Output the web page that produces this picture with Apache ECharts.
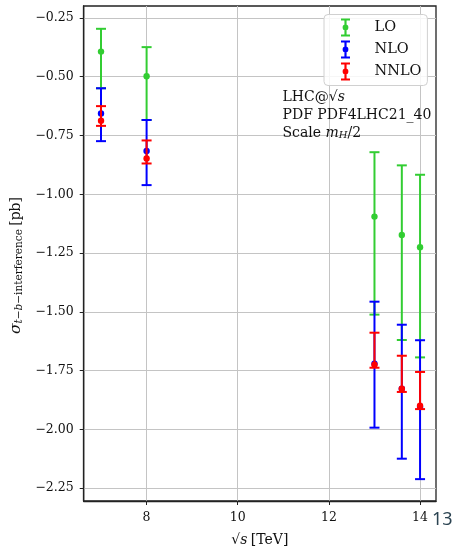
<!DOCTYPE html>
<html>
<head>
<meta charset="utf-8">
<script src="https://cdn.jsdelivr.net/npm/echarts@6/dist/echarts.min.js"></script>
<style>html,body{margin:0;padding:0;background:#fff;}#c{width:454px;height:552px;}</style>
</head>
<body>
<div id="c"></div>
<script>
// collision energies (TeV)
const energies = [7, 8, 13, 13.6, 14];
// LO
const loCentral = [-0.393, -0.498, -1.095, -1.173, -1.225];
const loUpper   = [-0.296, -0.374, -0.821, -0.877, -0.917];
const loLower   = [-0.549, -0.684, -1.512, -1.620, -1.694];
// NLO
const nloCentral = [-0.656, -0.816, -1.721, -1.827, -1.905];
const nloUpper   = [-0.549, -0.684, -1.457, -1.555, -1.621];
const nloLower   = [-0.774, -0.961, -1.993, -2.125, -2.212];
// NNLO
const nnloCentral = [-0.687, -0.848, -1.725, -1.827, -1.900];
const nnloUpper   = [-0.625, -0.771, -1.589, -1.687, -1.756];
const nnloLower   = [-0.709, -0.869, -1.738, -1.841, -1.914];
// ticks
const xTicks = [8, 10, 12, 14];
const yTicks = [-2.25, -2.0, -1.75, -1.5, -1.25, -1.0, -0.75, -0.5, -0.25];

const seriesNames = ['LO', 'NLO', 'NNLO'];
const seriesColors = ['#32cd32', '#0000ff', '#ff0000'];
const seriesData = [
  [loCentral, loUpper, loLower],
  [nloCentral, nloUpper, nloLower],
  [nnloCentral, nnloUpper, nnloLower]
];

const errIcon = 'path://M0,0H10V2.2H0Z M3.8,0H6.2V20H3.8Z M0,17.8H10V20H0Z M8.2,10A3.2,3.2,0,1,1,1.8,10A3.2,3.2,0,1,1,8.2,10Z';

function makeRender(color) {
  return function (params, api) {
    const x = api.value(0);
    const c = api.coord([x, api.value(1)]);
    const t = api.coord([x, api.value(2)]);
    const b = api.coord([x, api.value(3)]);
    const hw = 5;
    const ls = { stroke: color, lineWidth: 2 };
    return {
      type: 'group',
      children: [
        { type: 'line', shape: { x1: t[0], y1: t[1], x2: b[0], y2: b[1] }, style: ls },
        { type: 'line', shape: { x1: t[0] - hw, y1: t[1], x2: t[0] + hw, y2: t[1] }, style: ls },
        { type: 'line', shape: { x1: b[0] - hw, y1: b[1], x2: b[0] + hw, y2: b[1] }, style: ls },
        { type: 'circle', shape: { cx: c[0], cy: c[1], r: 3.2 }, style: { fill: color } }
      ]
    };
  };
}

const series = seriesNames.map((n, k) => ({
  name: n,
  type: 'custom',
  itemStyle: { color: seriesColors[k] },
  renderItem: makeRender(seriesColors[k]),
  encode: { x: 0, y: [1, 2, 3] },
  data: energies.map((e, i) => [e, seriesData[k][0][i], seriesData[k][1][i], seriesData[k][2][i]]),
  z: 2 + k
}));

const fmtNum = v => {
  const s = Math.abs(v).toFixed(2);
  return (v < 0 ? '\u2212' : '') + s;
};

const serif = 'DejaVu Serif';
const chart = echarts.init(document.getElementById('c'), null, { renderer: 'canvas' });
chart.setOption({
  animation: false,
  backgroundColor: '#fff',
  grid: { left: 83, right: 18, top: 6, bottom: 51, show: true, borderColor: '#222', borderWidth: 1.3, backgroundColor: 'transparent' },
  xAxis: {
    type: 'value', min: 6.62, max: 14.35,
    name: '{r|\u221A}{i|s} {r|[TeV]}',
    nameLocation: 'middle', nameGap: 32,
    nameTextStyle: { rich: { r: { fontFamily: serif, fontSize: 14, color: '#111' }, i: { fontFamily: serif, fontStyle: 'italic', fontSize: 14, color: '#111' } } },
    axisLine: { show: true, onZero: false, lineStyle: { color: '#222', width: 1.3 } },
    axisTick: { show: true, length: 4, customValues: xTicks, lineStyle: { color: '#222', width: 1 } },
    axisLabel: { customValues: xTicks, margin: 10, fontFamily: serif, fontSize: 12.5, color: '#111' },
    splitLine: { show: true, lineStyle: { color: '#c4c4c4', width: 1 } }
  },
  yAxis: {
    type: 'value', min: -2.305, max: -0.199,
    name: '{g|\u03C3}{si|t}{sub|\u2212}{si|b}{sub|\u2212interference} {r|[pb]}',
    nameLocation: 'middle', nameGap: 57,
    nameTextStyle: {
      padding: [0, 24, 0, 0],
      rich: {
        g: { fontFamily: serif, fontStyle: 'italic', fontSize: 15.5, color: '#111' },
        sub: { fontFamily: serif, fontSize: 10.5, color: '#111', padding: [6, 0, 0, 0] },
        si: { fontFamily: serif, fontStyle: 'italic', fontSize: 10.5, color: '#111', padding: [6, 0, 0, 0] },
        r: { fontFamily: serif, fontSize: 14, color: '#111' }
      }
    },
    axisLine: { show: true, onZero: false, lineStyle: { color: '#222', width: 1.3 } },
    axisTick: { show: true, length: 4, customValues: yTicks, lineStyle: { color: '#222', width: 1 } },
    axisLabel: { customValues: yTicks, margin: 10, fontFamily: serif, fontSize: 12.5, color: '#111', formatter: fmtNum },
    splitLine: { show: true, lineStyle: { color: '#c4c4c4', width: 1 } }
  },
  legend: {
    orient: 'vertical', left: 324, top: 14.5,
    padding: [4, 6, 5, 17],
    itemWidth: 10, itemHeight: 18, itemGap: 4,
    backgroundColor: 'rgba(255,255,255,0.85)',
    borderColor: '#d0d0d0', borderWidth: 1, borderRadius: 4,
    textStyle: { fontFamily: serif, fontSize: 14.5, color: '#111', padding: [0, 0, 0, 19] },
    data: seriesNames.map(n => ({ name: n, icon: errIcon }))
  },
  graphic: [
    { type: 'text', left: 282.5, top: 90, z: 10,
      style: { text: '{r|LHC@\u221A}{i|s}', rich: { r: { fontFamily: serif, fontSize: 14, fill: '#111' }, i: { fontFamily: serif, fontStyle: 'italic', fontSize: 14, fill: '#111' } } } },
    { type: 'text', left: 282.5, top: 108, z: 10,
      style: { text: 'PDF PDF4LHC21_40', fontFamily: serif, fontSize: 14, fill: '#111' } },
    { type: 'text', left: 282.5, top: 126, z: 10,
      style: { text: '{r|Scale }{i|m}{s|H}{r|/2}', rich: { r: { fontFamily: serif, fontSize: 14, fill: '#111' }, i: { fontFamily: serif, fontStyle: 'italic', fontSize: 14, fill: '#111' }, s: { fontFamily: serif, fontStyle: 'italic', fontSize: 10, fill: '#111', padding: [5, 0, 0, 0] } } } },
    { type: 'text', left: 432, top: 511, z: 10,
      style: { text: '13', fontFamily: 'Noto Sans', fontSize: 18, fill: '#2c4452' } }
  ],
  series: series
});
</script>
</body>
</html>
